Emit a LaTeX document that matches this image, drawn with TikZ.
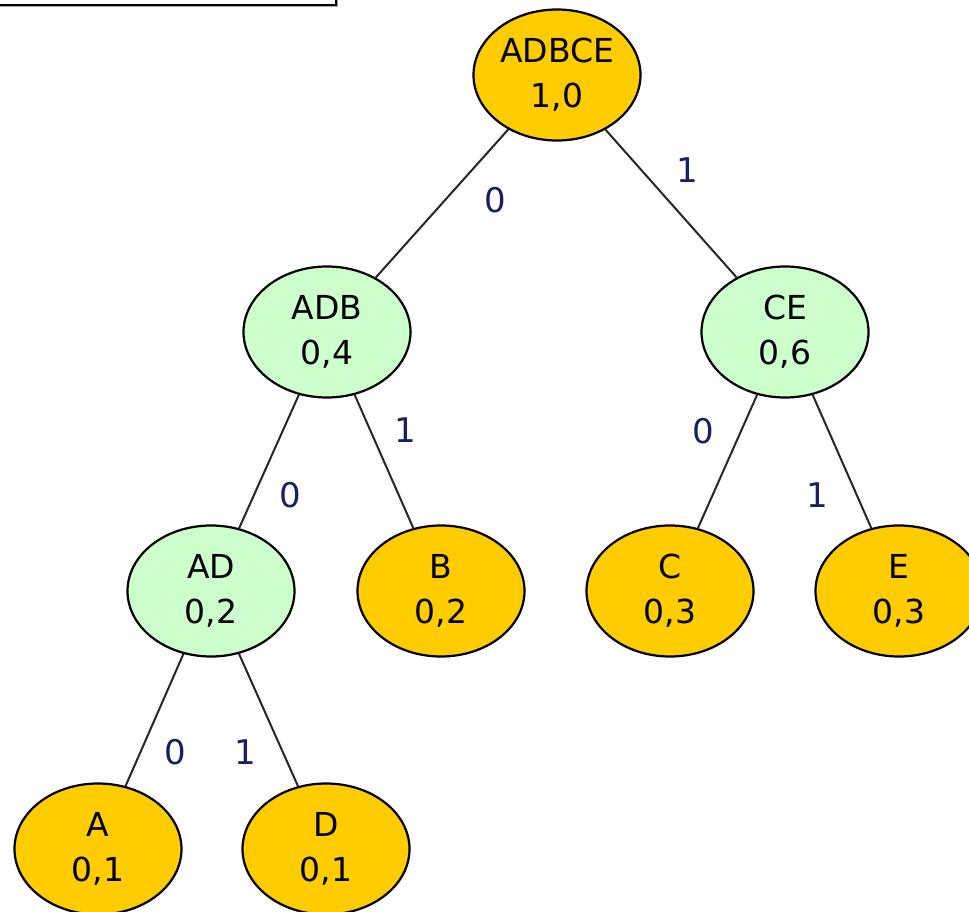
\documentclass[tikz,border=0pt]{standalone}
\usepackage{fontspec}
\setmainfont{DejaVu Sans}
\usetikzlibrary{shapes.geometric}
\definecolor{gold}{RGB}{255,204,0}
\definecolor{mint}{RGB}{204,255,204}
\definecolor{lbl}{RGB}{28,32,96}
\tikzset{
  tnode/.style={ellipse, draw=black, line width=2.2pt, inner sep=0pt,
    minimum width=167pt, minimum height=131pt, align=center,
    font=\fontsize{33}{45}\selectfont},
  leaf/.style={tnode, fill=gold},
  inner/.style={tnode, fill=mint},
  elbl/.style={text=lbl, inner sep=0pt, font=\fontsize{34}{40}\selectfont},
  conn/.style={draw=black!85, line width=2pt}
}
\begin{document}
\begin{tikzpicture}[x=1pt,y=-1pt]
\useasboundingbox (0,0) rectangle (969,912);
\clip (0,0) rectangle (969,912);
\fill[white] (0,0) rectangle (969,912);
% partial box at top-left
\draw[black!35, line width=1.5pt] (-10,6.5) -- (337.5,6.5) -- (337.5,-10);
\draw[black, line width=2.2pt] (-10,5) -- (336,5) -- (336,-10);
% nodes
\node[leaf]  (r)   at (557,75)  {ADBCE\\1,0};
\node[inner] (adb) at (327,332) {ADB\\0,4};
\node[inner] (ce)  at (785,332) {CE\\0,6};
\node[inner] (ad)  at (211,591) {AD\\0,2};
\node[leaf]  (b)   at (441,591) {B\\0,2};
\node[leaf]  (c)   at (670,591) {C\\0,3};
\node[leaf]  (e)   at (899,591) {E\\0,3};
\node[leaf]  (a)   at (98,849)  {A\\0,1};
\node[leaf]  (d)   at (326,849) {D\\0,1};
% connectors
\path[conn] (r) -- (adb);
\path[conn] (r) -- (ce);
\path[conn] (adb) -- (ad);
\path[conn] (adb) -- (b);
\path[conn] (ce) -- (c);
\path[conn] (ce) -- (e);
\path[conn] (ad) -- (a);
\path[conn] (ad) -- (d);
% edge labels
\node[elbl] (l1) at (495,200) {0};
\node[elbl] (l2) at (687,170) {1};
\node[elbl] (l3) at (290,495) {0};
\node[elbl] (l4) at (405,430) {1};
\node[elbl] (l5) at (703,431) {0};
\node[elbl] (l6) at (817,495) {1};
\node[elbl] (l7) at (175,752) {0};
\node[elbl] (l8) at (245,752) {1};
\end{tikzpicture}
\end{document}
